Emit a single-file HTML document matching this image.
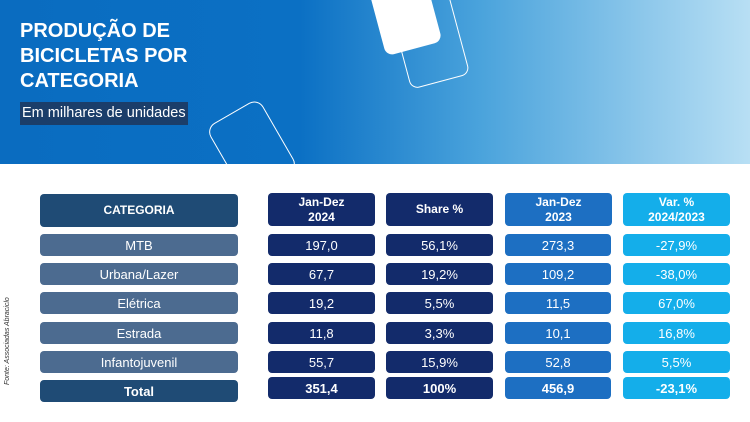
<!DOCTYPE html>
<html><head><meta charset="utf-8"><style>
*{margin:0;padding:0;box-sizing:border-box}
body{width:750px;height:422px;background:#fff;font-family:"Liberation Sans",sans-serif;position:relative;overflow:hidden}
.hd{position:absolute;left:0;top:0;width:750px;height:164px;background:linear-gradient(90deg,#0a6cc0 0%,#0b70c4 40%,#4aa3dc 64%,#b8dff4 100%);overflow:hidden}
.t{position:absolute;left:20px;top:19px;color:#fff;font-weight:bold;font-size:20px;line-height:25px}
.sub{position:absolute;left:20px;top:102px;height:23px;padding:0 2px;background:#1b3e6a;color:#fff;font-size:14.5px;line-height:23px;white-space:nowrap}
.c{position:absolute;border-radius:4px;color:#fff;font-size:13px;display:flex;align-items:center;justify-content:center;text-align:center;line-height:15px}
.b{font-weight:bold}
.src{position:absolute;left:4px;top:385px;transform:rotate(-90deg);transform-origin:0 0;font-size:7px;font-style:italic;color:#333;white-space:nowrap}
</style></head><body>
<div class="hd">
<svg width="750" height="164" style="position:absolute;left:0;top:0">
<rect x="375" y="-30" width="58" height="80" rx="8" fill="#fff" transform="rotate(-15 404 10)"/>
<rect x="398" y="-15" width="60" height="98" rx="8" fill="none" stroke="#fff" stroke-width="1" transform="rotate(-15 428 34)"/>
<rect x="222" y="108" width="60" height="80" rx="10" fill="none" stroke="#fff" stroke-width="1" transform="rotate(-30 252 148)"/>
</svg>
<div class="t">PRODUÇÃO DE<br>BICICLETAS POR<br>CATEGORIA</div>
<div class="sub">Em milhares de unidades</div>
</div>
<div class="src">Fonte: Associadas Abraciclo</div>
<div class="c b" style="left:40px;top:194px;width:198px;height:33px;background:#1f4b75;font-size:12px">CATEGORIA</div>
<div class="c b" style="left:268px;top:193px;width:107px;height:33px;background:#132b6b;font-size:12px">Jan-Dez<br>2024</div>
<div class="c b" style="left:386px;top:193px;width:107px;height:33px;background:#132b6b;font-size:12px">Share %</div>
<div class="c b" style="left:505px;top:193px;width:107px;height:33px;background:#1d6fc2;font-size:12px">Jan-Dez<br>2023</div>
<div class="c b" style="left:623px;top:193px;width:107px;height:33px;background:#14aeea;font-size:12px">Var. %<br>2024/2023</div>
<div id="rows"></div>
<script>
var d=[["MTB","197,0","56,1%","273,3","-27,9%"],["Urbana/Lazer","67,7","19,2%","109,2","-38,0%"],["Elétrica","19,2","5,5%","11,5","67,0%"],["Estrada","11,8","3,3%","10,1","16,8%"],["Infantojuvenil","55,7","15,9%","52,8","5,5%"],["Total","351,4","100%","456,9","-23,1%"]];
var ys=[234,263,292,322,351,380],h="";
var xs=[[40,198],[268,107],[386,107],[505,106],[623,107]];
var col=["#4c6b90","#132b6b","#132b6b","#1d6fc2","#14aeea"];
d.forEach(function(r,i){r.forEach(function(v,j){var tot=i==5;var bg=(j==0&&tot)?"#1f4b75":col[j];var y=ys[i]-(tot&&j>0?3:0);h+='<div class="c'+(tot?' b':'')+'" style="left:'+xs[j][0]+'px;top:'+y+'px;width:'+xs[j][1]+'px;height:22px;background:'+bg+'">'+v+'</div>';});});
document.getElementById("rows").innerHTML=h;
</script>
</body></html>
